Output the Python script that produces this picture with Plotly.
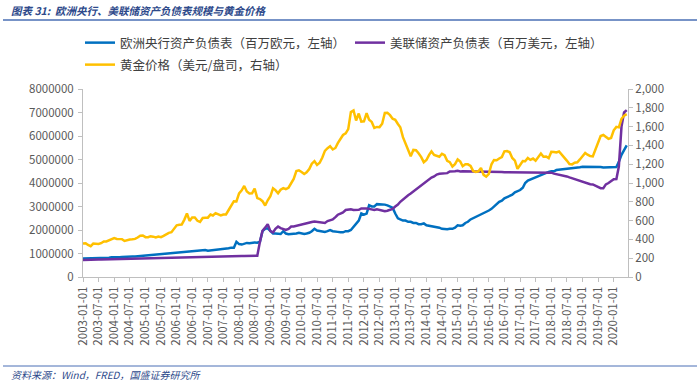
import plotly.graph_objects as go
import pandas as pd

months = pd.date_range("2003-01-01", "2020-06-01", freq="MS")

ecb_k = [
    790, 790, 795, 800, 800, 805, 810, 810, 810, 815, 820, 840,
    830, 830, 840, 850, 860, 870, 870, 870, 870, 880, 890, 920,
    900, 910, 920, 940, 950, 970, 980, 980, 990, 1000, 1010, 1040,
    1040, 1050, 1060, 1070, 1080, 1100, 1100, 1110, 1110, 1120, 1130, 1150,
    1120, 1130, 1140, 1150, 1160, 1170, 1170, 1200, 1220, 1250, 1250, 1500,
    1400, 1380, 1420, 1450, 1440, 1460, 1470, 1460, 1500, 1950, 2050, 2070,
    1950, 1850, 1850, 1840, 1830, 1950, 1850, 1820, 1820, 1830, 1850, 1880,
    1850, 1830, 1850, 1880, 1950, 2050, 1980, 1950, 1950, 1920, 1950, 2000,
    1950, 1950, 1920, 1900, 1900, 1950, 1950, 2000, 2150, 2300, 2400, 2700,
    2650, 2700, 3050, 3000, 3000, 3100, 3100, 3100, 3080, 3050, 3000, 2950,
    2700, 2500, 2450, 2400, 2400, 2350, 2350, 2300, 2300, 2250, 2250, 2280,
    2200, 2180, 2170, 2150, 2150, 2100, 2050, 2030, 2030, 2050, 2050, 2100,
    2200, 2180, 2200, 2300, 2350, 2450, 2500, 2550, 2600, 2650, 2700, 2780,
    2830, 2900, 3000, 3100, 3200, 3250, 3350, 3400, 3450, 3500, 3600, 3660,
    3700, 3800, 4000, 4100, 4150, 4200, 4250, 4300, 4350, 4400, 4450, 4470,
    4500, 4500, 4550, 4560, 4580, 4600, 4600, 4620, 4640, 4640, 4650, 4670,
    4690, 4690, 4690, 4690, 4700, 4700, 4690, 4680, 4660, 4670, 4680, 4670,
    4670, 4680, 4900, 5200, 5400, 5600,
]

fed_k = [
    722, 720, 723, 728, 736, 738, 740, 742, 745, 750, 755, 762,
    765, 765, 770, 775, 778, 782, 785, 790, 792, 795, 798, 805,
    810, 808, 812, 815, 818, 822, 826, 830, 832, 835, 838, 845,
    848, 845, 850, 852, 855, 858, 860, 862, 865, 868, 870, 875,
    874, 872, 875, 877, 880, 882, 885, 890, 882, 885, 888, 905,
    905, 895, 890, 890, 888, 895, 905, 905, 1500, 1970, 2100, 2250,
    1950, 1900, 2050, 2150, 2080, 2050, 2000, 2050, 2150, 2150, 2180, 2220,
    2250, 2280, 2300, 2330, 2340, 2360, 2350, 2320, 2310, 2300, 2380, 2420,
    2450, 2550, 2650, 2700, 2750, 2850, 2880, 2880, 2850, 2870, 2860, 2920,
    2930, 2920, 2900, 2870, 2850, 2880, 2860, 2830, 2800, 2820, 2850, 2900,
    3000, 3080, 3200, 3300, 3400, 3480, 3550, 3640, 3710, 3800, 3900, 4000,
    4050, 4140, 4230, 4280, 4360, 4390, 4410, 4420, 4420, 4490, 4480, 4500,
    4520, 4490, 4500, 4500, 4500, 4490, 4490, 4500, 4500, 4490, 4480, 4490,
    4490, 4490, 4490, 4490, 4470, 4470, 4460, 4460, 4460, 4450, 4450, 4450,
    4450, 4470, 4470, 4470, 4470, 4470, 4470, 4460, 4460, 4450, 4460, 4450,
    4440, 4400, 4380, 4370, 4330, 4320, 4280, 4240, 4200, 4180, 4140, 4100,
    4060, 4020, 3990, 3950, 3940, 3880, 3820, 3780, 3780, 3940, 4000, 4100,
    4160, 4170, 4700, 6400, 7000, 7100,
]

gold = [
    356.9, 359.0, 340.6, 328.2, 355.7, 356.4, 351.0, 359.8, 378.9, 378.9, 389.9, 407.6,
    414.0, 405.3, 406.7, 403.0, 383.5, 392.4, 398.1, 400.5, 405.3, 420.5, 439.4, 442.1,
    424.0, 423.4, 434.2, 429.2, 421.9, 430.7, 424.5, 437.9, 456.0, 469.9, 476.7, 509.8,
    549.9, 555.0, 557.1, 610.6, 676.5, 596.2, 633.7, 632.6, 598.2, 585.8, 627.8, 629.8,
    631.2, 664.8, 654.9, 679.4, 667.3, 655.5, 665.3, 665.4, 712.7, 754.6, 806.3, 803.2,
    889.6, 922.3, 968.4, 909.7, 888.7, 889.5, 939.8, 839.0, 829.9, 806.6, 760.9, 816.1,
    858.7, 943.2, 924.3, 890.2, 928.6, 945.7, 934.2, 949.4, 996.6, 1043.2, 1127.0, 1134.7,
    1117.9, 1095.4, 1113.3, 1148.7, 1205.4, 1232.9, 1192.9, 1215.8, 1271.0, 1342.0, 1369.9, 1390.6,
    1356.4, 1372.7, 1424.0, 1473.8, 1510.4, 1528.7, 1572.8, 1755.8, 1771.9, 1665.2, 1739.0, 1652.3,
    1656.1, 1742.6, 1673.8, 1650.1, 1585.5, 1596.7, 1594.3, 1630.3, 1744.8, 1746.6, 1721.6, 1684.8,
    1671.9, 1627.6, 1593.1, 1487.9, 1414.0, 1343.4, 1285.5, 1351.7, 1348.6, 1316.6, 1275.8, 1221.5,
    1244.3, 1299.6, 1336.1, 1299.0, 1287.5, 1279.1, 1310.6, 1295.1, 1236.6, 1222.5, 1175.3, 1200.6,
    1250.8, 1227.1, 1178.6, 1198.9, 1198.6, 1181.5, 1128.3, 1117.9, 1124.8, 1159.3, 1086.4, 1068.3,
    1097.9, 1199.5, 1245.1, 1242.3, 1260.9, 1276.4, 1336.7, 1340.2, 1326.6, 1266.6, 1238.4, 1151.4,
    1192.1, 1234.2, 1231.1, 1266.9, 1246.0, 1260.3, 1236.8, 1283.0, 1314.1, 1279.5, 1281.9, 1264.5,
    1331.3, 1330.7, 1324.7, 1334.8, 1303.5, 1281.6, 1238.5, 1201.7, 1198.4, 1215.4, 1220.7, 1250.4,
    1291.8, 1320.1, 1300.9, 1285.9, 1283.7, 1359.0, 1412.9, 1500.4, 1510.6, 1494.8, 1470.0, 1479.1,
    1560.7, 1597.1, 1591.9, 1683.2, 1715.9, 1732.0,
]

ecb = [v * 1000 for v in ecb_k]
fed = [v * 1000 for v in fed_k]

tick_dates = pd.date_range("2003-01-01", "2020-01-01", freq="6MS")
tick_text = [d.strftime("%Y-%m-%d") for d in tick_dates]

name_ecb = "欧洲央行资产负债表（百万欧元，左轴）"
name_fed = "美联储资产负债表（百万美元，左轴）"
name_gold = "黄金价格（美元/盘司，右轴）"

FONT = "Noto Sans CJK SC"
AXC = "#595959"

W, H = 700, 382
L, R, T, B = 83, 72, 89, 105
pw, ph = W - L - R, H - T - B
def px(x): return (x - L) / pw
def py(y): return (H - B - y) / ph

fig = go.Figure()
fig.add_trace(go.Scatter(x=months, y=ecb, name=name_ecb, mode="lines", legend="legend",
                         line=dict(color="#0070C0", width=2.5)))
fig.add_trace(go.Scatter(x=months, y=fed, name=name_fed, mode="lines", legend="legend",
                         line=dict(color="#7030A0", width=2.5)))
fig.add_trace(go.Scatter(x=months, y=gold, name=name_gold, mode="lines", yaxis="y2",
                         legend="legend2", line=dict(color="#FFC000", width=2.5)))

leg_common = dict(orientation="h", xref="container", yref="container",
                  xanchor="left", yanchor="top",
                  font=dict(size=12.5, color="#404040", family=FONT),
                  bgcolor="rgba(0,0,0,0)")

fig.update_layout(
    width=W, height=H,
    margin=dict(l=L, r=R, t=T, b=B, autoexpand=False),
    paper_bgcolor="white", plot_bgcolor="white",
    font=dict(family=FONT, color=AXC, size=11),
    showlegend=True,
    legend=dict(**leg_common, x=80 / W, y=(H - 28) / H,
                entrywidth=225, entrywidthmode="pixels"),
    legend2=dict(**leg_common, x=80 / W, y=(H - 50) / H),
    xaxis=dict(type="date", range=["2003-01-01", "2020-06-16"],
               tickmode="array", tickvals=tick_dates, ticktext=tick_text,
               tickangle=-90, showgrid=False, showline=True, linecolor="#BFBFBF",
               ticks="outside", ticklen=4, tickcolor="#BFBFBF",
               tickfont=dict(size=11.5, color=AXC), zeroline=False),
    yaxis=dict(range=[0, 8000000], dtick=1000000, tickformat="d",
               showgrid=False, showline=True, linecolor="#BFBFBF",
               ticks="outside", ticklen=4, tickcolor="#BFBFBF", ticklabelstandoff=2,
               tickfont=dict(size=11.5, color=AXC), zeroline=False),
    yaxis2=dict(range=[0, 2000], dtick=200, tickformat=",", overlaying="y", side="right",
                showgrid=False, showline=True, linecolor="#BFBFBF",
                ticks="outside", ticklen=4, tickcolor="#BFBFBF",
                tickfont=dict(size=11.5, color=AXC), zeroline=False),
)

fig.add_annotation(text="<b><i>图表 31:  欧洲央行、美联储资产负债表规模与黄金价格</i></b>",
                   xref="paper", yref="paper", x=px(9), y=py(10), xanchor="left", yanchor="middle",
                   showarrow=False, font=dict(size=10.5, color="#2E4A8B", family=FONT))
fig.add_annotation(text="<i>资料来源：Wind，FRED，国盛证券研究所</i>",
                   xref="paper", yref="paper", x=px(9), y=py(374), xanchor="left", yanchor="middle",
                   showarrow=False, font=dict(size=10, color="#2E4A8B", family=FONT))
fig.add_shape(type="line", xref="paper", yref="paper", x0=px(3), x1=px(697),
              y0=py(20), y1=py(20), line=dict(color="#4A6FB5", width=1.5))
fig.add_shape(type="line", xref="paper", yref="paper", x0=px(3), x1=px(697),
              y0=py(366), y1=py(366), line=dict(color="#4A6FB5", width=1))

fig.write_html("out.html", config={"displayModeBar": False},
               post_script="document.body.style.margin='0';document.body.style.padding='0';")
